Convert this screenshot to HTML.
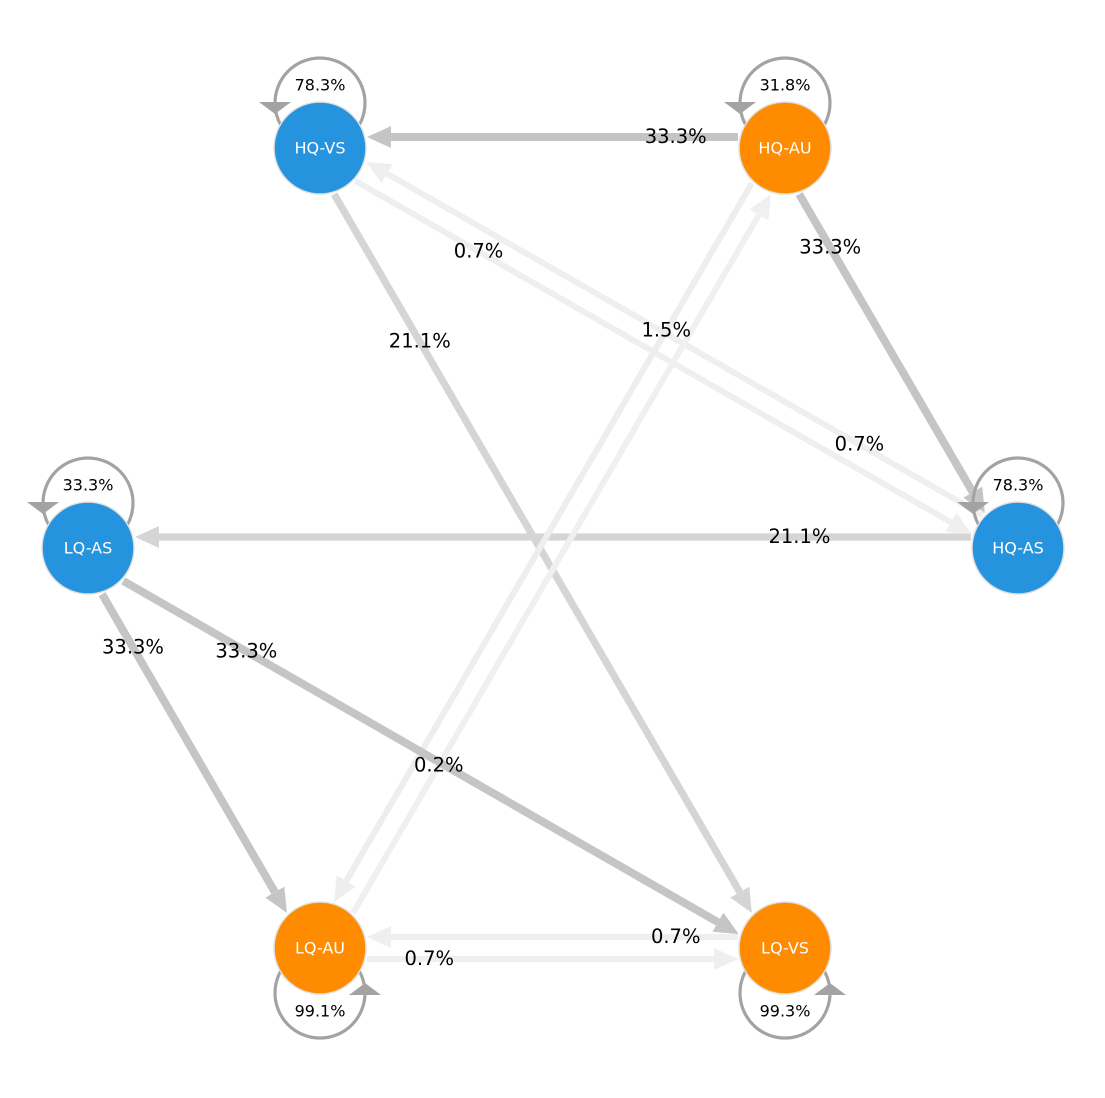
<!DOCTYPE html>
<html><head><meta charset="utf-8"><style>
html,body{margin:0;padding:0;background:#fff;}
svg{display:block;font-family:"DejaVu Sans","Liberation Sans",sans-serif;}
</style></head><body>
<svg id="chart" width="1105" height="1098" viewBox="0 0 1105 1098" xmlns="http://www.w3.org/2000/svg"></svg>
<script>
const nodeNames = ["HQ-VS","HQ-AU","HQ-AS","LQ-AS","LQ-AU","LQ-VS"];
const nodeGroup = ["blue","orange","blue","blue","orange","orange"];
const selfProb = [78.3, 31.8, 78.3, 33.3, 99.1, 99.3];
const edgeFrom = ["HQ-AU","HQ-AU","HQ-VS","HQ-AS","HQ-VS","HQ-AS","HQ-AU","LQ-AU","LQ-AS","LQ-AS","LQ-VS","LQ-AU"];
const edgeTo   = ["HQ-VS","HQ-AS","LQ-VS","LQ-AS","HQ-AS","HQ-VS","LQ-AU","HQ-AU","LQ-AU","LQ-VS","LQ-AU","LQ-VS"];
const edgeProb = [33.3, 33.3, 21.1, 21.1, 0.7, 0.7, 1.5, 0.2, 33.3, 33.3, 0.7, 0.7];

const pos = {"HQ-VS":[320,148],"HQ-AU":[785,148],"HQ-AS":[1018,548],"LQ-AS":[88,548],"LQ-AU":[320,948],"LQ-VS":[785,948]};
const loopDown = {"LQ-AU":true,"LQ-VS":true};
const NS="http://www.w3.org/2000/svg";
const svg=document.getElementById('chart');
function mk(t,a,p){const e=document.createElementNS(NS,t);for(const k in a)e.setAttribute(k,a[k]);(p||svg).appendChild(e);return e;}
const R=47, OFF=11;
const gE=mk('g',{});


const gL=mk('g',{});


edgeFrom.forEach((f,i)=>{
  const a=pos[f], b=pos[edgeTo[i]], v=edgeProb[i];
  const dx=b[0]-a[0], dy=b[1]-a[1], L=Math.hypot(dx,dy), ux=dx/L, uy=dy/L;
  const px=-uy*OFF, py=ux*OFF;
  const sx=a[0]+ux*R+px, sy=a[1]+uy*R+py, tx=b[0]-ux*R+px, ty=b[1]-uy*R+py;
  const g=Math.round(240-1.3*v), col=`rgb(${g},${g},${g})`;
  const w=6+v*0.06, AL=24, AW=11;
  const bx=tx-ux*AL, by=ty-uy*AL;
  const grp=mk('g',{},gE);
  
  
  mk('line',{x1:sx,y1:sy,x2:bx,y2:by,stroke:col,'stroke-width':w},grp);
  mk('polygon',{points:`${tx},${ty} ${bx-uy*AW},${by+ux*AW} ${bx+uy*AW},${by-ux*AW}`,fill:col},grp);
  const t=0.235, lx=a[0]+dx*t+px, ly=a[1]+dy*t+py;
  const tx2=mk('text',{x:lx,y:ly+6,'text-anchor':'middle','font-size':19.5,fill:'#000'},gL);
  
  
  tx2.textContent=v.toFixed(1)+'%';
});
nodeNames.forEach((n,i)=>{
  const [x,y]=pos[n], down=!!loopDown[n], s=down?1:-1;
  const cy=y+s*45;
  const g=mk('g',{});
  
  
  mk('circle',{cx:x,cy:cy,r:45,fill:'none',stroke:'#a3a3a3','stroke-width':3.2},g);
  if(down){
    mk('polygon',{points:`${x+29},${cy+2} ${x+61},${cy+2} ${x+45},${cy-10}`,fill:'#a3a3a3'},g);
  } else {
    mk('polygon',{points:`${x-61},${cy-1} ${x-29},${cy-1} ${x-45},${cy+11}`,fill:'#a3a3a3'},g);
  }
  const t=mk('text',{x:x,y:cy+s*18+5.5,'text-anchor':'middle','font-size':16,fill:'#000'},g);
  t.textContent=selfProb[i].toFixed(1)+'%';
});
nodeNames.forEach((n,i)=>{
  const [x,y]=pos[n];
  const g=mk('g',{});
  
  
  mk('circle',{cx:x,cy:y,r:46,fill:nodeGroup[i]==='blue'?'#2593de':'#ff8c00',stroke:'#e0e0e0','stroke-width':1.5},g);
  const t=mk('text',{x:x,y:y+5.5,'text-anchor':'middle','font-size':16,fill:'#fff'},g);
  t.textContent=n;
});
svg.appendChild(gL);
</script>
</body></html>
